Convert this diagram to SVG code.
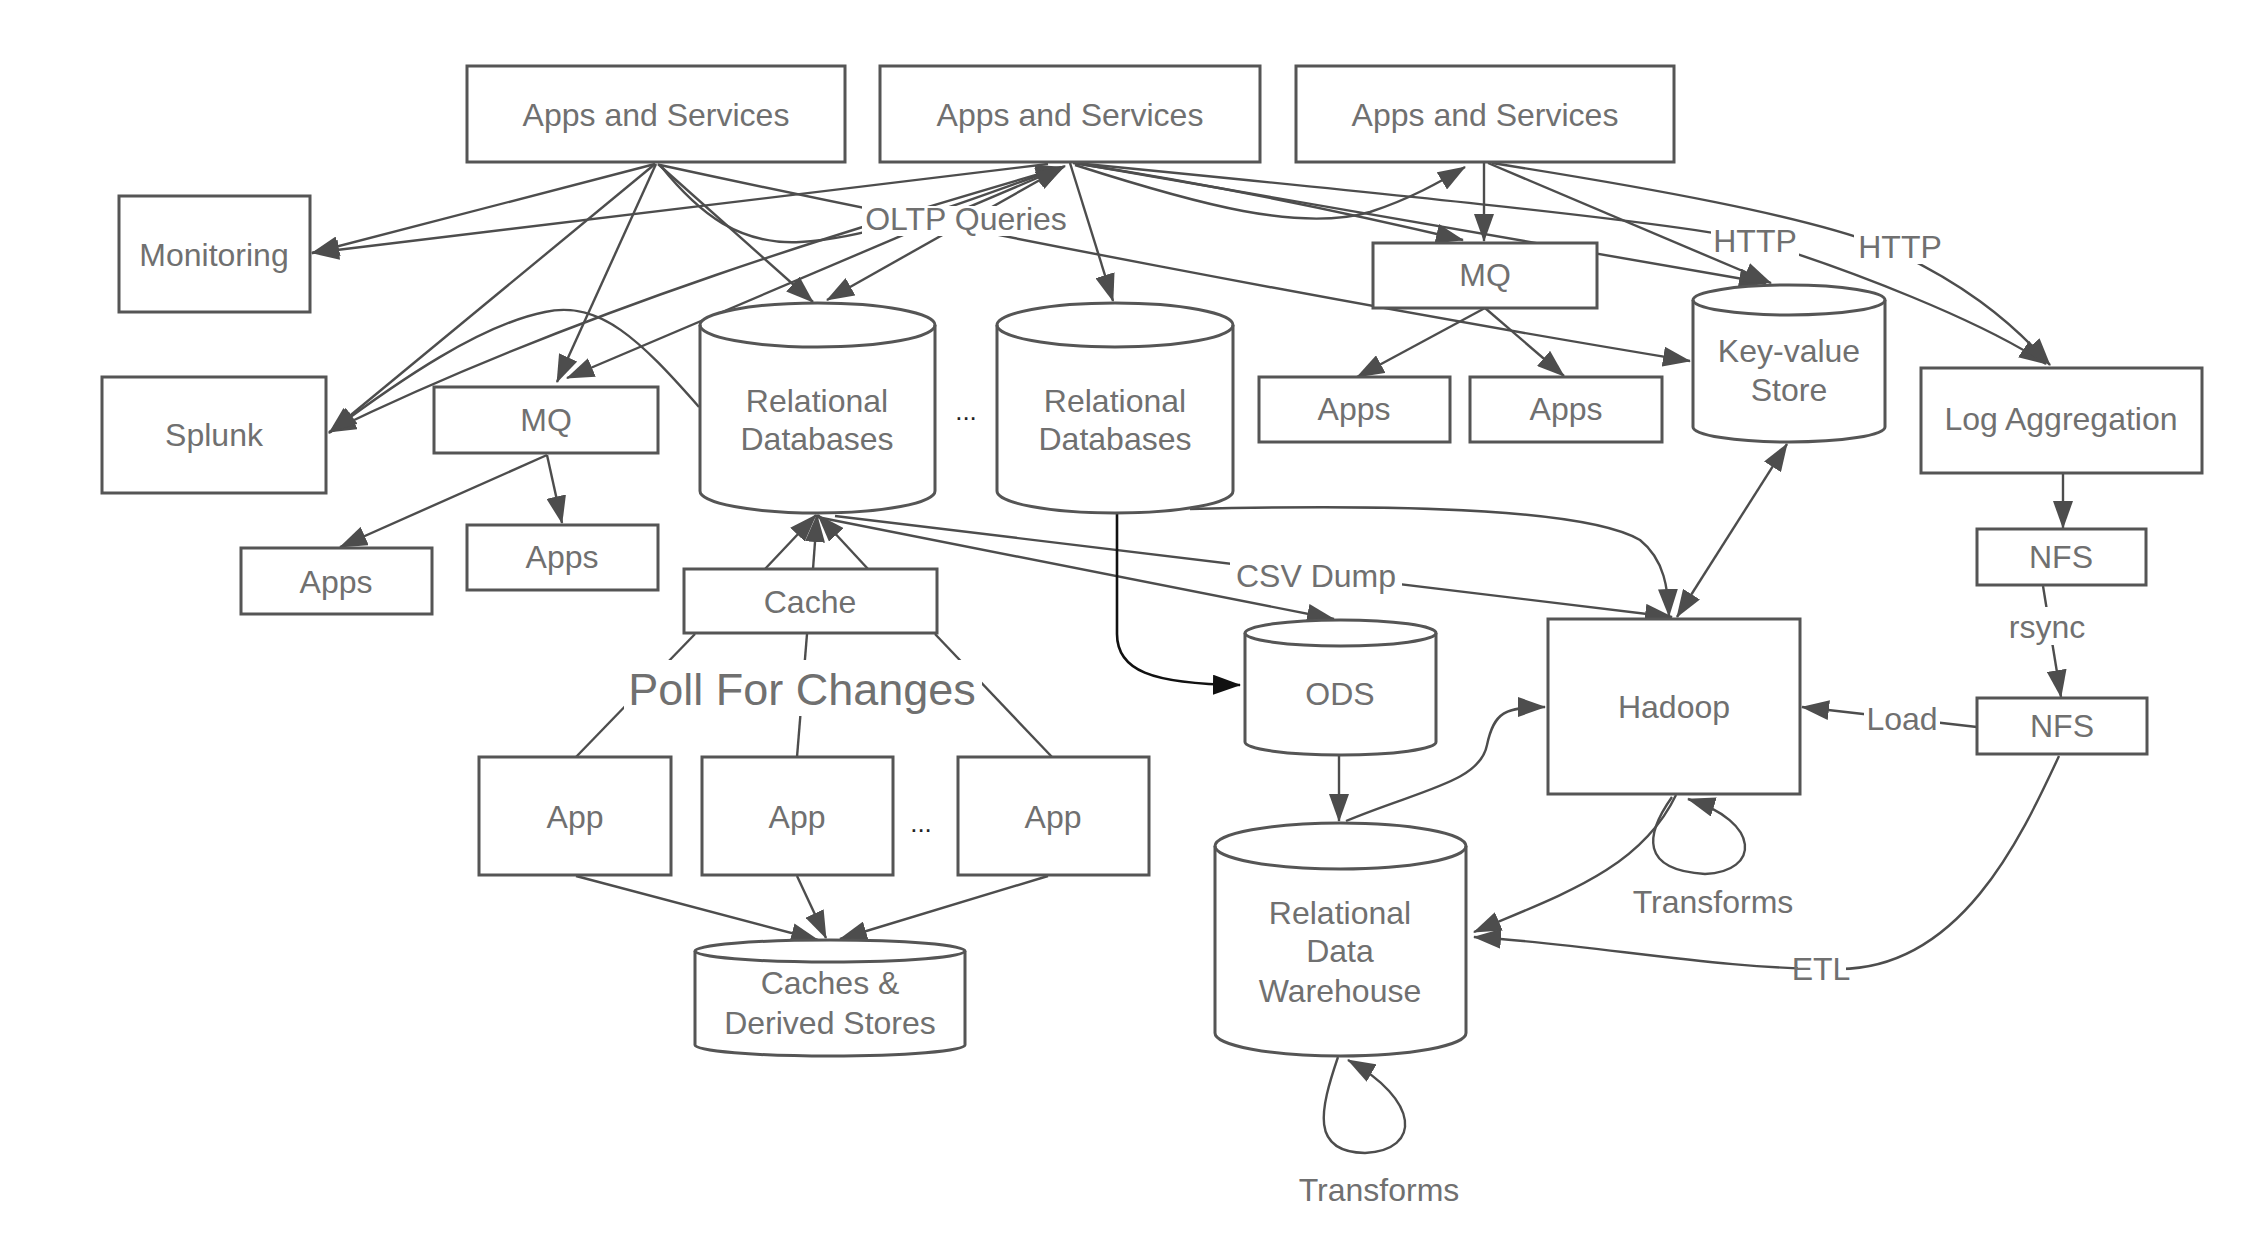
<svg xmlns="http://www.w3.org/2000/svg" width="2260" height="1256" viewBox="0 0 2260 1256">
<defs>
<style>
.box{fill:#fff;stroke:#555;stroke-width:3}
.t{font-family:"Liberation Sans",Arial,Helvetica,sans-serif;font-size:32px;fill:#707070;text-anchor:middle}
.big{font-size:45px}
.dots{font-family:"Liberation Sans",Arial,sans-serif;font-size:26px;fill:#222;text-anchor:middle}
.e{fill:none;stroke:#4d4d4d;stroke-width:2.4}
.a{marker-end:url(#ah)}
.b{marker-start:url(#ah);marker-end:url(#ah)}
.k{fill:none;stroke:#111;stroke-width:2.6;marker-end:url(#ahk)}
.bg{fill:#fff}
</style>
<marker id="ah" viewBox="0 0 28 20" refX="27" refY="10" markerWidth="28" markerHeight="20" markerUnits="userSpaceOnUse" orient="auto-start-reverse"><path d="M0,0 L28,10 L0,20 z" fill="#4d4d4d"/></marker>
<marker id="ahk" viewBox="0 0 28 20" refX="27" refY="10" markerWidth="28" markerHeight="20" markerUnits="userSpaceOnUse" orient="auto"><path d="M0,0 L28,10 L0,20 z" fill="#111"/></marker>
</defs>
<rect width="2260" height="1256" fill="#fff"/>

<g id="connectors">
<!-- from AS1 -->
<path class="e a" d="M655,164 L312,253"/>
<path class="e a" d="M655,164 L329,433"/>
<path class="e a" d="M656,164 L557,382"/>
<path class="e a" d="M658,164 L813,302"/>
<path class="e" d="M660,165 C 700,215 740,245 800,242 C 880,238 980,195 1063,167"/>
<path class="e a" d="M1063,167 L1065,166"/>
<path class="e a" d="M660,165 C 950,228 1350,305 1690,361"/>
<!-- from AS2 -->
<path class="e a" d="M1048,164 L312,253"/>
<path class="e b" d="M1063,167 C 900,215 600,300 329,432"/>
<path class="e b" d="M1063,167 L567,378"/>
<path class="e b" d="M1063,167 L827,300"/>
<path class="e a" d="M1070,163 L1113,301"/>
<path class="e a" d="M1073,163 Q 1250,190 1463,240"/>
<path class="e a" d="M1075,163 L1766,283"/>
<path class="e a" d="M1075,163 C 1400,195 1700,225 1760,242 C 1850,270 1980,320 2046,364"/>
<path class="e a" d="M1075,165 C 1200,205 1300,232 1370,212 C 1410,199 1440,182 1465,167"/>
<!-- from AS3 -->
<path class="e a" d="M1484,163 L1484,241"/>
<path class="e a" d="M1488,163 L1771,283"/>
<path class="e a" d="M1492,163 C 1650,188 1800,215 1880,245 C 1960,280 2010,320 2050,365"/>
<!-- MQ fan-out -->
<path class="e a" d="M547,455 L340,547"/>
<path class="e a" d="M547,455 L562,523"/>
<path class="e a" d="M1485,308 L1357,377"/>
<path class="e a" d="M1485,308 L1564,376"/>
<!-- RDB1 to Splunk -->
<path class="e a" d="M699,407 C 640,340 600,300 545,312 C 480,325 400,380 330,432"/>
<!-- Cache to RDB1 -->
<path class="e a" d="M765,569 L816,515"/>
<path class="e a" d="M813,569 L817,515"/>
<path class="e a" d="M868,569 L818,515"/>
<!-- Poll for changes -->
<path class="e" d="M695,634 L576,757"/>
<path class="e" d="M807,634 L797,757"/>
<path class="e" d="M935,634 L1052,757"/>
<!-- Apps to caches -->
<path class="e a" d="M576,876 L818,940"/>
<path class="e a" d="M797,876 L826,938"/>
<path class="e a" d="M1048,876 L840,939"/>
<!-- RDB1 to ODS / CSV -->
<path class="e a" d="M817,517 L1334,619"/>
<path class="e a" d="M835,516 L1672,617"/>
<!-- RDB2 -->
<path class="k" d="M1117,513 L1117,634 C 1117,670 1150,684 1240,685"/>
<path class="e a" d="M1190,509 C 1350,505 1580,505 1640,540 C 1665,560 1668,590 1669,616"/>
<!-- KV Hadoop -->
<path class="e b" d="M1787,444 L1677,617"/>
<!-- Log aggregation -->
<path class="e a" d="M2063,473 L2063,528"/>
<path class="e a" d="M2043,586 L2061,697"/>
<path class="e a" d="M1977,727 L1802,707"/>
<path class="e a" d="M2059,756 C 2020,840 1960,968 1840,969 C 1720,970 1600,945 1474,937"/>
<!-- ODS / DW / Hadoop -->
<path class="e a" d="M1339,755 L1339,821"/>
<path class="e a" d="M1346,821 C 1420,790 1480,782 1487,745 C 1494,712 1505,707 1545,707"/>
<path class="e a" d="M1676,795 C 1640,870 1560,895 1474,932"/>
<path class="e a" d="M1672,797 C 1645,835 1640,870 1705,874 C 1760,872 1762,822 1688,799"/>
<path class="e a" d="M1338,1057 C 1320,1110 1310,1152 1365,1153 C 1422,1150 1420,1100 1348,1060"/>
</g>

<g id="monitoring"><rect class="box" x="119" y="196" width="191" height="116"/><text class="t" x="214" y="266">Monitoring</text></g>
<g id="splunk"><rect class="box" x="102" y="377" width="224" height="116"/><text class="t" x="214" y="446">Splunk</text></g>
<g id="as1"><rect class="box" x="467" y="66" width="378" height="96"/><text class="t" x="656" y="126">Apps and Services</text></g>
<g id="as2"><rect class="box" x="880" y="66" width="380" height="96"/><text class="t" x="1070" y="126">Apps and Services</text></g>
<g id="as3"><rect class="box" x="1296" y="66" width="378" height="96"/><text class="t" x="1485" y="126">Apps and Services</text></g>
<g id="mq1"><rect class="box" x="434" y="387" width="224" height="66"/><text class="t" x="546" y="431">MQ</text></g>
<g id="apps1"><rect class="box" x="241" y="548" width="191" height="66"/><text class="t" x="336" y="593">Apps</text></g>
<g id="apps2"><rect class="box" x="467" y="525" width="191" height="65"/><text class="t" x="562" y="568">Apps</text></g>
<g id="rdb1"><path class="box" d="M700,325 A117.5,22 0 0 1 935,325 L935,491 A117.5,22 0 0 1 700,491 Z"/><path class="box" style="fill:none" d="M700,325 A117.5,22 0 0 0 935,325"/><text class="t" x="817" y="412">Relational</text><text class="t" x="817" y="450">Databases</text></g>
<g id="dots1"><text class="dots" x="966" y="420">...</text></g>
<g id="rdb2"><path class="box" d="M997,325 A118,22 0 0 1 1233,325 L1233,491 A118,22 0 0 1 997,491 Z"/><path class="box" style="fill:none" d="M997,325 A118,22 0 0 0 1233,325"/><text class="t" x="1115" y="412">Relational</text><text class="t" x="1115" y="450">Databases</text></g>
<g id="cache"><rect class="box" x="684" y="569" width="253" height="64"/><text class="t" x="810" y="613">Cache</text></g>
<g id="app1"><rect class="box" x="479" y="757" width="192" height="118"/><text class="t" x="575" y="828">App</text></g>
<g id="app2"><rect class="box" x="702" y="757" width="191" height="118"/><text class="t" x="797" y="828">App</text></g>
<g id="dots2"><text class="dots" x="921" y="832">...</text></g>
<g id="app3"><rect class="box" x="958" y="757" width="191" height="118"/><text class="t" x="1053" y="828">App</text></g>
<g id="caches"><path class="box" d="M695,951 A135,11 0 0 1 965,951 L965,1045 A135,11 0 0 1 695,1045 Z"/><path class="box" style="fill:none" d="M695,951 A135,11 0 0 0 965,951"/><text class="t" x="830" y="994">Caches &amp;</text><text class="t" x="830" y="1034">Derived Stores</text></g>
<g id="mq2"><rect class="box" x="1373" y="243" width="224" height="65"/><text class="t" x="1485" y="286">MQ</text></g>
<g id="appsr1"><rect class="box" x="1259" y="377" width="191" height="65"/><text class="t" x="1354" y="420">Apps</text></g>
<g id="appsr2"><rect class="box" x="1470" y="377" width="192" height="65"/><text class="t" x="1566" y="420">Apps</text></g>
<g id="kv"><path class="box" d="M1693,300 A96,15 0 0 1 1885,300 L1885,427 A96,15 0 0 1 1693,427 Z"/><path class="box" style="fill:none" d="M1693,300 A96,15 0 0 0 1885,300"/><text class="t" x="1789" y="362">Key-value</text><text class="t" x="1789" y="401">Store</text></g>
<g id="logagg"><rect class="box" x="1921" y="368" width="281" height="105"/><text class="t" x="2061" y="430">Log Aggregation</text></g>
<g id="nfs1"><rect class="box" x="1977" y="529" width="169" height="56"/><text class="t" x="2061" y="568">NFS</text></g>
<g id="nfs2"><rect class="box" x="1977" y="698" width="170" height="56"/><text class="t" x="2062" y="737">NFS</text></g>
<g id="ods"><path class="box" d="M1245,633 A95.5,13 0 0 1 1436,633 L1436,742 A95.5,13 0 0 1 1245,742 Z"/><path class="box" style="fill:none" d="M1245,633 A95.5,13 0 0 0 1436,633"/><text class="t" x="1340" y="705">ODS</text></g>
<g id="hadoop"><rect class="box" x="1548" y="619" width="252" height="175"/><text class="t" x="1674" y="718">Hadoop</text></g>
<g id="dw"><path class="box" d="M1215,846 A125.5,23 0 0 1 1466,846 L1466,1033 A125.5,23 0 0 1 1215,1033 Z"/><path class="box" style="fill:none" d="M1215,846 A125.5,23 0 0 0 1466,846"/><text class="t" x="1340" y="924">Relational</text><text class="t" x="1340" y="962">Data</text><text class="t" x="1340" y="1002">Warehouse</text></g>

<g id="labels">
<rect class="bg" x="862" y="206" width="207" height="30"/><text class="t" x="966" y="230">OLTP Queries</text>
<rect class="bg" x="1711" y="228" width="88" height="28"/><text class="t" x="1755" y="252">HTTP</text>
<rect class="bg" x="1854" y="234" width="92" height="30"/><text class="t" x="1900" y="258">HTTP</text>
<rect class="bg" x="1230" y="561" width="172" height="31"/><text class="t" x="1316" y="587">CSV Dump</text>
<rect class="bg" x="2008" y="607" width="78" height="38"/><text class="t" x="2047" y="638">rsync</text>
<rect class="bg" x="1864" y="703" width="76" height="34"/><text class="t" x="1902" y="730">Load</text>
<rect class="bg" x="1798" y="952" width="48" height="36"/><text class="t" x="1821" y="980">ETL</text>
<rect class="bg" x="624" y="660" width="358" height="56"/><text class="t big" x="802" y="705">Poll For Changes</text>
<text class="t" x="1713" y="913">Transforms</text>
<text class="t" x="1379" y="1201">Transforms</text>
</g>
</svg>
